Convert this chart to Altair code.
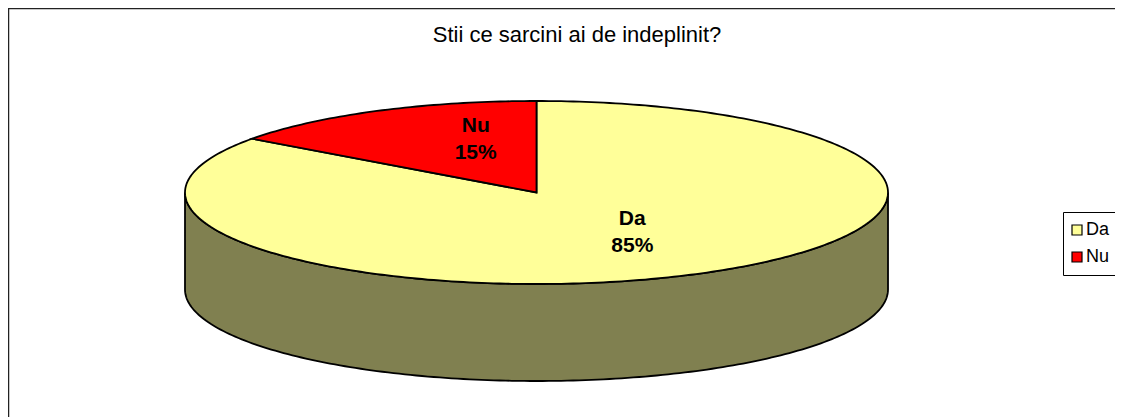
import math
import altair as alt
import pandas as pd

# ---- data ----
categories = ["Da", "Nu"]
values = [85, 15]
colors = ["#FFFF99", "#FF0000"]
side_color = "#808050"
title_text = "Stii ce sarcini ai de indeplinit?"

# ---- geometry of the 3-D pie (unit ellipse, placed by the projection) ----
W, H = 1107, 409
SCALE = 351.5
CX, CY = 528.5, 184.5
TILT = 91.5 / 351.5
DEPTH = 97 / 351.5

total = sum(values)
start = 90.0
features = []
label_rows = []
for cat, v in zip(categories, values):
    sweep = 360.0 * v / total
    n = max(int(sweep), 2)
    pts = [[0.0, 0.0]]
    for i in range(n + 1):
        t = math.radians(start - sweep * i / n)
        pts.append([math.cos(t), -TILT * math.sin(t)])
    pts.append([0.0, 0.0])
    features.append({"type": "Feature", "properties": {"name": cat},
                     "geometry": {"type": "Polygon", "coordinates": [pts]}})
    mid = math.radians(start - sweep / 2)
    label_rows.append({"name": cat,
                       "lon": 0.5 * math.cos(mid),
                       "lat": -TILT * 0.5 * math.sin(mid),
                       "label": f"{cat}\n{round(100 * v / total)}%"})
    start -= sweep

side = []
for d in range(180, 361):
    t = math.radians(d)
    side.append([math.cos(t), -TILT * math.sin(t)])
for d in range(360, 179, -1):
    t = math.radians(d)
    side.append([math.cos(t), -TILT * math.sin(t) + DEPTH])
side.append(side[0])
side_feature = [{"type": "Feature", "properties": {"name": "side"},
                 "geometry": {"type": "Polygon", "coordinates": [side]}}]

labels = pd.DataFrame(label_rows)
blank = alt.Data(values=[{}])

side_layer = alt.Chart(alt.Data(values=side_feature)).mark_geoshape(
    fill=side_color, stroke="black", strokeWidth=1.8
).project(type="identity", scale=SCALE, translate=[CX, CY])

top_layer = alt.Chart(alt.Data(values=features)).mark_geoshape(
    stroke="black", strokeWidth=1.8
).encode(
    color=alt.Color(
        "properties.name:N",
        scale=alt.Scale(domain=categories, range=colors),
        legend=alt.Legend(
            title=None, orient="none", legendX=1055, legendY=204,
            strokeColor="black", fillColor="white", padding=9,
            symbolType="square", symbolSize=100, symbolStrokeColor="black",
            symbolStrokeWidth=1.2, labelFontSize=18, labelFont="Liberation Sans",
            labelColor="black", rowPadding=9, labelOffset=0, symbolOffset=-4,
            labelExpr="datum.label + '        '",
        ),
    )
).project(type="identity", scale=SCALE, translate=[CX, CY])

text_style = dict(fontSize=21, fontWeight="bold", font="Liberation Sans",
                  lineBreak="\n", lineHeight=27, align="center",
                  baseline="middle", color="black")

nu_text = alt.Chart(labels).transform_filter(alt.datum.name == "Nu").mark_text(
    dx=19, dy=-26, **text_style
).encode(longitude="lon:Q", latitude="lat:Q", text="label:N").project(
    type="identity", scale=SCALE, translate=[CX, CY])

da_text = alt.Chart(labels).transform_filter(alt.datum.name == "Da").mark_text(
    dx=16, dy=-14, **text_style
).encode(longitude="lon:Q", latitude="lat:Q", text="label:N").project(
    type="identity", scale=SCALE, translate=[CX, CY])

title = alt.Chart(blank).mark_text(
    text=title_text, fontSize=22, font="Liberation Sans", align="center",
    baseline="alphabetic", color="black"
).encode(x=alt.value(569), y=alt.value(34))

top_border = alt.Chart(blank).mark_rule(color="#222222", strokeWidth=2.5).encode(
    x=alt.value(0), x2=alt.value(W), y=alt.value(0))
left_border = alt.Chart(blank).mark_rule(color="#222222", strokeWidth=2.5).encode(
    x=alt.value(0), y=alt.value(0), y2=alt.value(H))

chart = alt.layer(
    side_layer, top_layer, nu_text, da_text, title, top_border, left_border
).properties(
    width=W, height=H, padding=0, autosize=alt.AutoSizeParams(type="none")
).configure_view(stroke=None).configure(background="white")

chart.save("out.html", embed_options={"renderer": "svg", "actions": False})
